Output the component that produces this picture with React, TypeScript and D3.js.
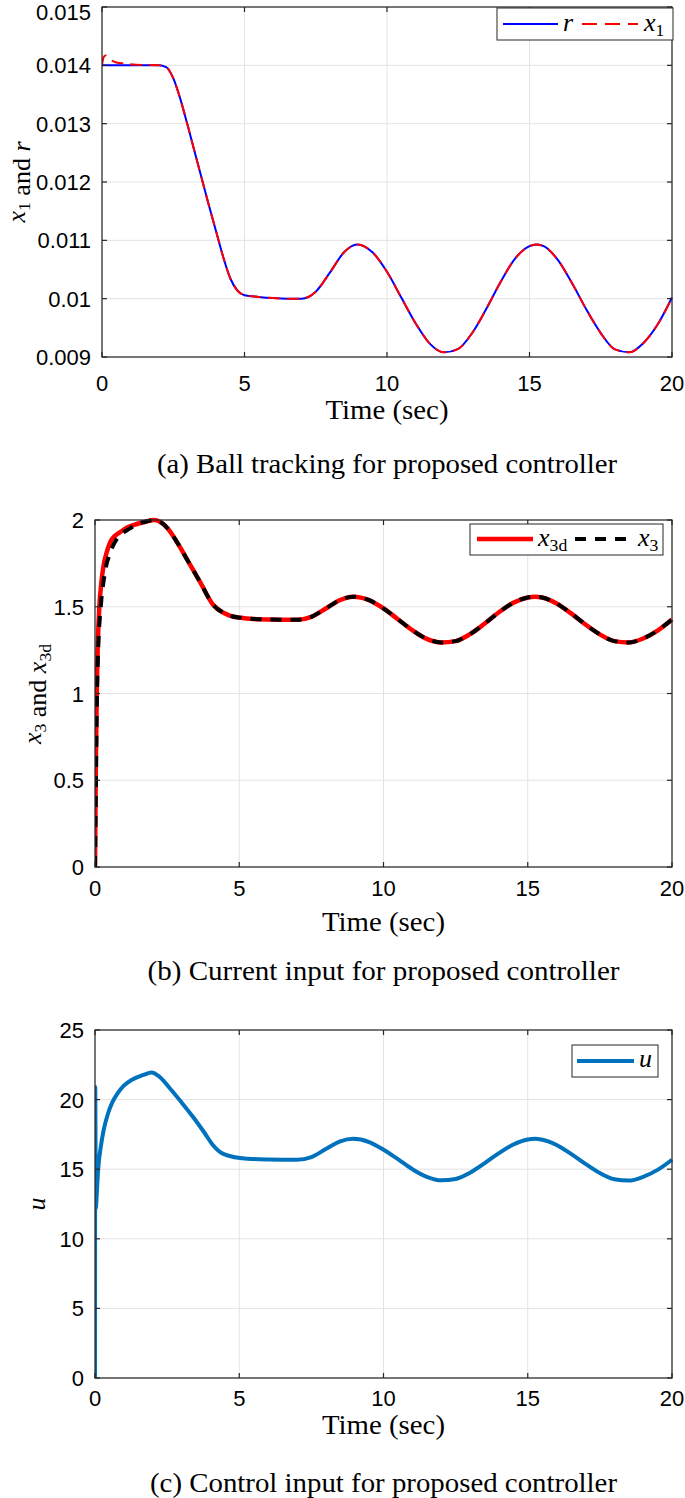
import React from "react";
import * as d3 from "d3";

// ---------- Panel (a): ball tracking ----------
const tR = [0, 2, 2.25, 2.5, 2.75, 3, 3.25, 3.5, 3.75, 4, 4.25, 4.5, 4.75, 5, 5.5, 6, 6.5, 7, 7.5, 8, 8.5, 8.95, 9.5, 10, 10.5, 11, 11.5, 12, 12.5, 13, 13.5, 14, 14.5, 15, 15.25, 15.5, 16, 16.5, 17, 17.5, 18, 18.5, 19, 19.5, 20];
const rVals = [0.014, 0.014, 0.01397, 0.01378, 0.01342, 0.01298, 0.01252, 0.01206, 0.0116, 0.01116, 0.01072, 0.01035, 0.01014, 0.01006, 0.01003, 0.01001, 0.01, 0.01, 0.01012, 0.01045, 0.0108, 0.01093, 0.01079, 0.01046, 0.01002, 0.00958, 0.00923, 0.00908, 0.00914, 0.00942, 0.00984, 0.0103, 0.01069, 0.0109, 0.01093, 0.0109, 0.01066, 0.01026, 0.00981, 0.00941, 0.00913, 0.00908, 0.00924, 0.00956, 0.01002];
const tX1Start = [0, 0.03, 0.07, 0.12, 0.2, 0.3, 0.5, 0.8, 1.2];
const x1Start = [0.014, 0.01409, 0.01415, 0.01417, 0.01415, 0.0141, 0.01405, 0.01403, 0.01401];
const yTicksA = [0.009, 0.01, 0.011, 0.012, 0.013, 0.014, 0.015];
const yTickLabelsA = ["0.009", "0.01", "0.011", "0.012", "0.013", "0.014", "0.015"];

// ---------- Panel (b): current input ----------
const tX3d = [0, 0.03, 0.06, 0.1, 0.15, 0.22, 0.3, 0.4, 0.52, 0.7, 0.87, 1.1, 1.45, 1.75, 2.05, 2.25, 2.5, 2.85, 3.2, 3.65, 4.1, 4.45, 4.75, 5.05, 5.5, 6, 7, 7.5, 8, 8.5, 8.95, 9.5, 10, 10.5, 11, 11.5, 12, 12.5, 13, 13.5, 14, 14.5, 15, 15.25, 15.5, 16, 16.5, 17, 17.5, 18, 18.5, 19, 19.5, 20];
const x3dVals = [0, 0.6, 1.0, 1.3, 1.5, 1.64, 1.74, 1.81, 1.87, 1.91, 1.93, 1.955, 1.977, 1.99, 2.0, 1.99, 1.955, 1.87, 1.77, 1.64, 1.51, 1.465, 1.445, 1.437, 1.43, 1.427, 1.425, 1.442, 1.49, 1.539, 1.558, 1.538, 1.49, 1.428, 1.365, 1.315, 1.294, 1.302, 1.342, 1.402, 1.468, 1.523, 1.553, 1.558, 1.553, 1.519, 1.462, 1.398, 1.341, 1.302, 1.294, 1.317, 1.363, 1.427];
const tX3Start = [0, 0.03, 0.06, 0.1, 0.2, 0.3, 0.38, 0.5, 0.62, 0.8, 1.0, 1.2];
const x3Start = [0, 0.45, 0.9, 1.2, 1.5, 1.65, 1.73, 1.8, 1.85, 1.9, 1.93, 1.95];
const yTicksB = [0, 0.5, 1, 1.5, 2];
const yTickLabelsB = ["0", "0.5", "1", "1.5", "2"];

// ---------- Panel (c): control input ----------
const tU = [0, 0.008, 0.03, 0.06, 0.11, 0.2, 0.3, 0.45, 0.6, 0.8, 1.0, 1.3, 1.68, 1.96, 2.2, 2.6, 3.0, 3.4, 3.8, 4.1, 4.35, 4.7, 5.03, 5.5, 6, 7, 7.5, 8, 8.5, 8.95, 9.5, 10, 10.5, 11, 11.5, 12, 12.5, 13, 13.5, 14, 14.5, 15, 15.25, 15.5, 16, 16.5, 17, 17.5, 18, 18.5, 19, 19.5, 20];
const uVals = [0, 20.9, 12.2, 13.2, 15, 16.6, 17.8, 19.0, 19.8, 20.5, 21.0, 21.45, 21.77, 21.95, 21.7, 20.8, 19.8, 18.75, 17.6, 16.7, 16.2, 15.93, 15.8, 15.73, 15.7, 15.68, 15.87, 16.45, 17.0, 17.18, 16.95, 16.4, 15.72, 15.0, 14.45, 14.2, 14.3, 14.75, 15.42, 16.15, 16.77, 17.13, 17.18, 17.12, 16.74, 16.1, 15.38, 14.72, 14.28, 14.18, 14.45, 14.95, 15.68];
const yTicksC = [0, 5, 10, 15, 20, 25];
const yTickLabelsC = ["0", "5", "10", "15", "20", "25"];

const xTicks = [0, 5, 10, 15, 20];
const xTickLabels = ["0", "5", "10", "15", "20"];

const AX = "#262626";
const GRID = "#e3e3e3";
const SANS = "'Liberation Sans', Arial, sans-serif";
const SERIF = "'Liberation Serif', 'Times New Roman', serif";

type Series = { t: number[]; v: number[]; color: string; width: number; dash?: string };

function zip(t: number[], v: number[]): [number, number][] {
  return t.map((ti, i) => [ti, v[i]] as [number, number]);
}

interface PanelProps {
  id: string;
  left: number; right: number; top: number; bottom: number;
  yDomain: [number, number];
  yTicks: number[]; yTickLabels: string[];
  series: Series[];
  tickBase: number; xlabelBase: number; captionBase: number;
  caption: string; captionWidth: number;
  ylabel: React.ReactNode;
  legend: React.ReactNode;
}

function Panel(p: PanelProps) {
  const x = d3.scaleLinear().domain([0, 20]).range([p.left, p.right]);
  const y = d3.scaleLinear().domain(p.yDomain).range([p.bottom, p.top]);
  const line = d3.line<[number, number]>().x(d => x(d[0])).y(d => y(d[1])).curve(d3.curveMonotoneX);
  const tl = 5;
  const cx = (p.left + p.right) / 2;
  return (
    <g>
      <defs>
        <clipPath id={"clip" + p.id}>
          <rect x={p.left} y={p.top - 3} width={p.right - p.left + 3} height={p.bottom - p.top + 3} />
        </clipPath>
      </defs>
      <rect x={p.left} y={p.top} width={p.right - p.left} height={p.bottom - p.top} fill="#fff" />
      {xTicks.map(t => (
        <line key={"gx" + t} x1={x(t)} x2={x(t)} y1={p.top} y2={p.bottom} stroke={GRID} strokeWidth={1} />
      ))}
      {p.yTicks.map(t => (
        <line key={"gy" + t} x1={p.left} x2={p.right} y1={y(t)} y2={y(t)} stroke={GRID} strokeWidth={1} />
      ))}
      <g clipPath={`url(#clip${p.id})`}>
        {p.series.map((s, i) => (
          <path key={i} d={line(zip(s.t, s.v)) || ""} fill="none" stroke={s.color} strokeWidth={s.width}
            strokeDasharray={s.dash} strokeLinejoin="round" />
        ))}
      </g>
      <rect x={p.left} y={p.top} width={p.right - p.left} height={p.bottom - p.top} fill="none" stroke={AX} strokeWidth={1.2} />
      {xTicks.map(t => (
        <g key={"tx" + t}>
          <line x1={x(t)} x2={x(t)} y1={p.bottom} y2={p.bottom - tl} stroke={AX} strokeWidth={1.2} />
          <line x1={x(t)} x2={x(t)} y1={p.top} y2={p.top + tl} stroke={AX} strokeWidth={1.2} />
        </g>
      ))}
      {p.yTicks.map(t => (
        <g key={"ty" + t}>
          <line x1={p.left} x2={p.left + tl} y1={y(t)} y2={y(t)} stroke={AX} strokeWidth={1.2} />
          <line x1={p.right} x2={p.right - tl} y1={y(t)} y2={y(t)} stroke={AX} strokeWidth={1.2} />
        </g>
      ))}
      {xTicks.map((t, i) => (
        <text key={"lx" + t} x={x(t)} y={p.tickBase} textAnchor="middle" fontFamily={SANS} fontSize={22} fill="#000">
          {xTickLabels[i]}
        </text>
      ))}
      {p.yTicks.map((t, i) => (
        <text key={"ly" + t} x={p.left - 11} y={Math.max(y(t) + 8, 20)} textAnchor="end" fontFamily={SANS} fontSize={22} fill="#000">
          {p.yTickLabels[i]}
        </text>
      ))}
      <text x={cx} y={p.xlabelBase} textAnchor="middle" fontFamily={SERIF} fontSize={27} fill="#000"
        textLength={123} lengthAdjust="spacingAndGlyphs">
        Time (sec)
      </text>
      <text x={cx} y={p.captionBase} textAnchor="middle" fontFamily={SERIF} fontSize={27} fill="#000"
        textLength={p.captionWidth} lengthAdjust="spacingAndGlyphs">
        {p.caption}
      </text>
      {p.ylabel}
      {p.legend}
    </g>
  );
}

function Sub({ main, sub, size = 26 }: { main: string; sub: string; size?: number }) {
  return (
    <>
      <tspan fontStyle="italic">{main}</tspan>
      <tspan fontSize={size * 0.68} dy={5}>{sub}</tspan>
      <tspan dy={-5}>{""}</tspan>
    </>
  );
}

export default function App() {
  const rSeries: Series = { t: tR, v: rVals, color: "#0000ff", width: 2 };
  const tX1 = tX1Start.concat(tR.slice(1));
  const x1Vals = x1Start.concat(rVals.slice(1));
  const x1Series: Series = { t: tX1, v: x1Vals, color: "#ff0000", width: 2, dash: "12 7" };

  const x3dSeries: Series = { t: tX3d, v: x3dVals, color: "#ff0000", width: 4.5 };
  const cut = tX3d.indexOf(1.45);
  const x3Series: Series = {
    t: tX3Start.concat(tX3d.slice(cut)),
    v: x3Start.concat(x3dVals.slice(cut)),
    color: "#000000", width: 4, dash: "11 9",
  };

  const uSeries: Series = { t: tU, v: uVals, color: "#0072BD", width: 4 };

  return (
    <svg width={685} height={1498} style={{ position: "absolute", left: 0, top: 0, background: "#fff" }}
      xmlns="http://www.w3.org/2000/svg">
      <rect width={685} height={1498} fill="#fff" />

      <Panel id="a" left={102} right={672} top={7} bottom={357}
        yDomain={[0.009, 0.015]} yTicks={yTicksA} yTickLabels={yTickLabelsA}
        series={[rSeries, x1Series]}
        tickBase={391} xlabelBase={419} captionBase={473}
        caption="(a) Ball tracking for proposed controller" captionWidth={460}
        ylabel={
          <text transform="translate(25,182) rotate(-90)" textAnchor="middle" fontFamily={SERIF} fontSize={26}>
            <Sub main="x" sub="1" />
            <tspan>{" and "}</tspan>
            <tspan fontStyle="italic">r</tspan>
          </text>
        }
        legend={
          <g>
            <rect x={497} y={8} width={176} height={32} fill="#fff" stroke={AX} strokeWidth={1} />
            <line x1={503} x2={558} y1={24} y2={24} stroke="#0000ff" strokeWidth={2} />
            <text x={563} y={31} fontFamily={SERIF} fontSize={26} fontStyle="italic">r</text>
            <line x1={582} x2={638} y1={24} y2={24} stroke="#ff0000" strokeWidth={2} strokeDasharray="15 8" />
            <text x={644} y={31} fontFamily={SERIF} fontSize={26}><Sub main="x" sub="1" /></text>
          </g>
        }
      />

      <Panel id="b" left={95} right={672} top={520} bottom={867}
        yDomain={[0, 2]} yTicks={yTicksB} yTickLabels={yTickLabelsB}
        series={[x3dSeries, x3Series]}
        tickBase={896} xlabelBase={931} captionBase={980}
        caption="(b) Current input for proposed controller" captionWidth={472}
        ylabel={
          <text transform="translate(41,694) rotate(-90)" textAnchor="middle" fontFamily={SERIF} fontSize={26}>
            <Sub main="x" sub="3" />
            <tspan>{" and "}</tspan>
            <Sub main="x" sub="3d" />
          </text>
        }
        legend={
          <g>
            <rect x={470} y={524} width={193} height={31} fill="#fff" stroke={AX} strokeWidth={1} />
            <line x1={477} x2={533} y1={539} y2={539} stroke="#ff0000" strokeWidth={4.5} />
            <text x={538} y={546} fontFamily={SERIF} fontSize={26}><Sub main="x" sub="3d" /></text>
            <line x1={575} x2={635} y1={539} y2={539} stroke="#000" strokeWidth={4} strokeDasharray="11 9" />
            <text x={638} y={546} fontFamily={SERIF} fontSize={26}><Sub main="x" sub="3" /></text>
          </g>
        }
      />

      <Panel id="c" left={95} right={672} top={1030} bottom={1378}
        yDomain={[0, 25]} yTicks={yTicksC} yTickLabels={yTickLabelsC}
        series={[uSeries]}
        tickBase={1406} xlabelBase={1434} captionBase={1492}
        caption="(c) Control input for proposed controller" captionWidth={467}
        ylabel={
          <text transform="translate(45,1204) rotate(-90)" textAnchor="middle" fontFamily={SERIF} fontSize={26}
            fontStyle="italic">u</text>
        }
        legend={
          <g>
            <rect x={572} y={1045} width={86} height={32} fill="#fff" stroke={AX} strokeWidth={1} />
            <line x1={577} x2={634} y1={1061} y2={1061} stroke="#0072BD" strokeWidth={4} />
            <text x={639} y={1067} fontFamily={SERIF} fontSize={26} fontStyle="italic">u</text>
          </g>
        }
      />
    </svg>
  );
}
